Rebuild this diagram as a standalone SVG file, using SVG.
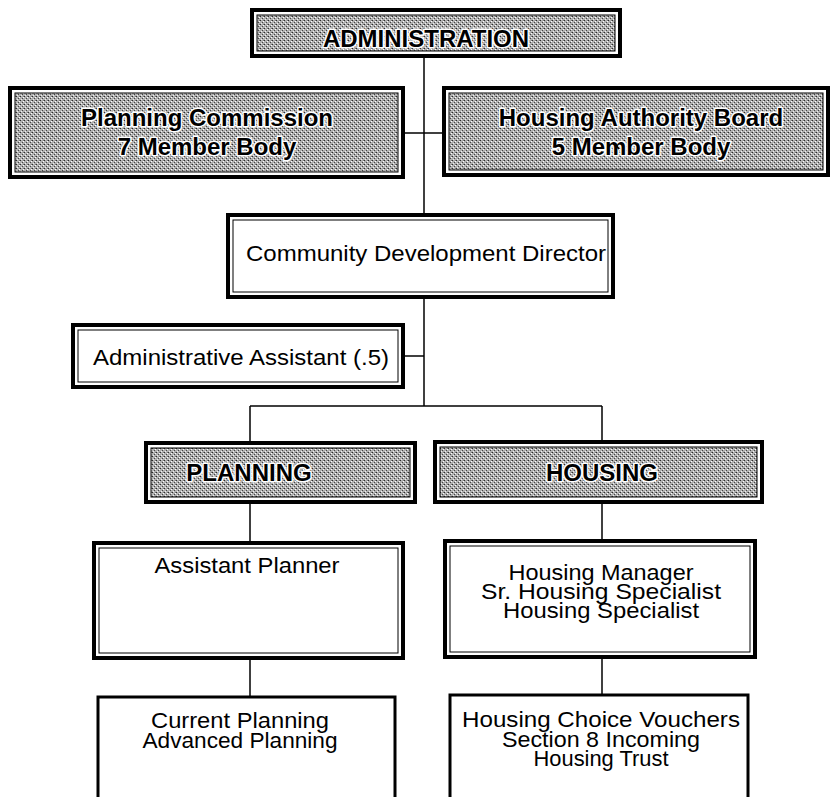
<svg xmlns="http://www.w3.org/2000/svg" width="832" height="797" viewBox="0 0 832 797">
<defs>
<pattern id="halftone" width="4" height="4" patternUnits="userSpaceOnUse">
<rect width="4" height="4" fill="#b0b0b0"/>
<rect x="0" y="0" width="1" height="1" fill="#2c2c2c"/>
<rect x="2" y="2" width="1" height="1" fill="#454545"/>
<rect x="3" y="0" width="1" height="1" fill="#7a7a7a"/>
<rect x="3" y="1" width="1" height="1" fill="#ffffff"/>
<rect x="1" y="3" width="1" height="1" fill="#f0f0f0"/>
</pattern>
</defs>
<style>
.conn line{stroke:#000;stroke-width:1.5}
.outer{fill:#fff;stroke:#000;stroke-width:4}
.inner{fill:none;stroke:#000;stroke-width:1}
.shade{fill:url(#halftone)}
.single{fill:#fff;stroke:#000;stroke-width:3}
.t{font-family:"Liberation Sans",Arial,sans-serif;font-size:22px;text-anchor:middle;fill:#000}
.b{font-family:"Liberation Sans",Arial,sans-serif;font-weight:bold;font-size:24px;text-anchor:middle;fill:#000;stroke:#fff;stroke-width:3;paint-order:stroke;stroke-linejoin:round}
</style>
<rect width="832" height="797" fill="#fff"/>
<g id="connectors" class="conn">
<line x1="424" y1="57" x2="424" y2="215"/>
<line x1="403" y1="133" x2="444" y2="133"/>
<line x1="424" y1="297" x2="424" y2="406"/>
<line x1="403" y1="356" x2="424" y2="356"/>
<line x1="250" y1="406" x2="602" y2="406"/>
<line x1="250" y1="406" x2="250" y2="443"/>
<line x1="602" y1="406" x2="602" y2="442"/>
<line x1="250" y1="502" x2="250" y2="543"/>
<line x1="602" y1="502" x2="602" y2="541"/>
<line x1="250" y1="658" x2="250" y2="697"/>
<line x1="602" y1="657" x2="602" y2="695"/>
</g>
<g id="administration">
<rect class="outer" x="252" y="10" width="368" height="46"/>
<rect class="inner shade" x="257" y="15" width="358" height="36"/>
<text class="b" x="426" y="47">ADMINISTRATION</text>
</g>
<g id="planning-commission">
<rect class="outer" x="10" y="88" width="393" height="89"/>
<rect class="inner shade" x="15" y="93" width="383" height="79"/>
<text class="b" x="207" y="126">Planning Commission</text>
<text class="b" x="207" y="155">7 Member Body</text>
</g>
<g id="housing-authority-board">
<rect class="outer" x="444" y="88" width="384" height="87"/>
<rect class="inner shade" x="449" y="93" width="374" height="77"/>
<text class="b" x="641" y="126">Housing Authority Board</text>
<text class="b" x="641" y="155">5 Member Body</text>
</g>
<g id="community-development-director">
<rect class="outer" x="228" y="215" width="385" height="82"/>
<rect class="inner" x="233" y="220" width="375" height="72"/>
<text class="t" x="426" y="261" textLength="360" lengthAdjust="spacingAndGlyphs">Community Development Director</text>
</g>
<g id="administrative-assistant">
<rect class="outer" x="73" y="325" width="330" height="62"/>
<rect class="inner" x="78" y="330" width="320" height="52"/>
<text class="t" x="241" y="365" textLength="296" lengthAdjust="spacingAndGlyphs">Administrative Assistant (.5)</text>
</g>
<g id="planning">
<rect class="outer" x="146" y="443" width="269" height="59"/>
<rect class="inner shade" x="151" y="448" width="259" height="49"/>
<text class="b" x="249" y="481">PLANNING</text>
</g>
<g id="housing">
<rect class="outer" x="435" y="442" width="327" height="60"/>
<rect class="inner shade" x="440" y="447" width="317" height="50"/>
<text class="b" x="602" y="481">HOUSING</text>
</g>
<g id="assistant-planner">
<rect class="outer" x="94" y="543" width="309" height="115"/>
<rect class="inner" x="99" y="548" width="299" height="105"/>
<text class="t" x="247" y="573" textLength="185" lengthAdjust="spacingAndGlyphs">Assistant Planner</text>
</g>
<g id="housing-staff">
<rect class="outer" x="445" y="541" width="310" height="116"/>
<rect class="inner" x="450" y="546" width="300" height="106"/>
<text class="t" x="601" y="580" textLength="185" lengthAdjust="spacingAndGlyphs">Housing Manager</text>
<text class="t" x="601" y="599" textLength="240" lengthAdjust="spacingAndGlyphs">Sr. Housing Specialist</text>
<text class="t" x="601" y="618" textLength="196" lengthAdjust="spacingAndGlyphs">Housing Specialist</text>
</g>
<g id="planning-programs">
<rect class="single" x="98" y="697" width="297" height="120"/>
<text class="t" x="240" y="728" textLength="178" lengthAdjust="spacingAndGlyphs">Current Planning</text>
<text class="t" x="240" y="748" textLength="195" lengthAdjust="spacingAndGlyphs">Advanced Planning</text>
</g>
<g id="housing-programs">
<rect class="single" x="450" y="695" width="298" height="120"/>
<text class="t" x="601" y="727" textLength="278" lengthAdjust="spacingAndGlyphs">Housing Choice Vouchers</text>
<text class="t" x="601" y="747" textLength="198" lengthAdjust="spacingAndGlyphs">Section 8 Incoming</text>
<text class="t" x="601" y="766" textLength="135" lengthAdjust="spacingAndGlyphs">Housing Trust</text>
</g>
<path d="M615 144 L619 149" stroke="#000" stroke-width="2"/>
</svg>
